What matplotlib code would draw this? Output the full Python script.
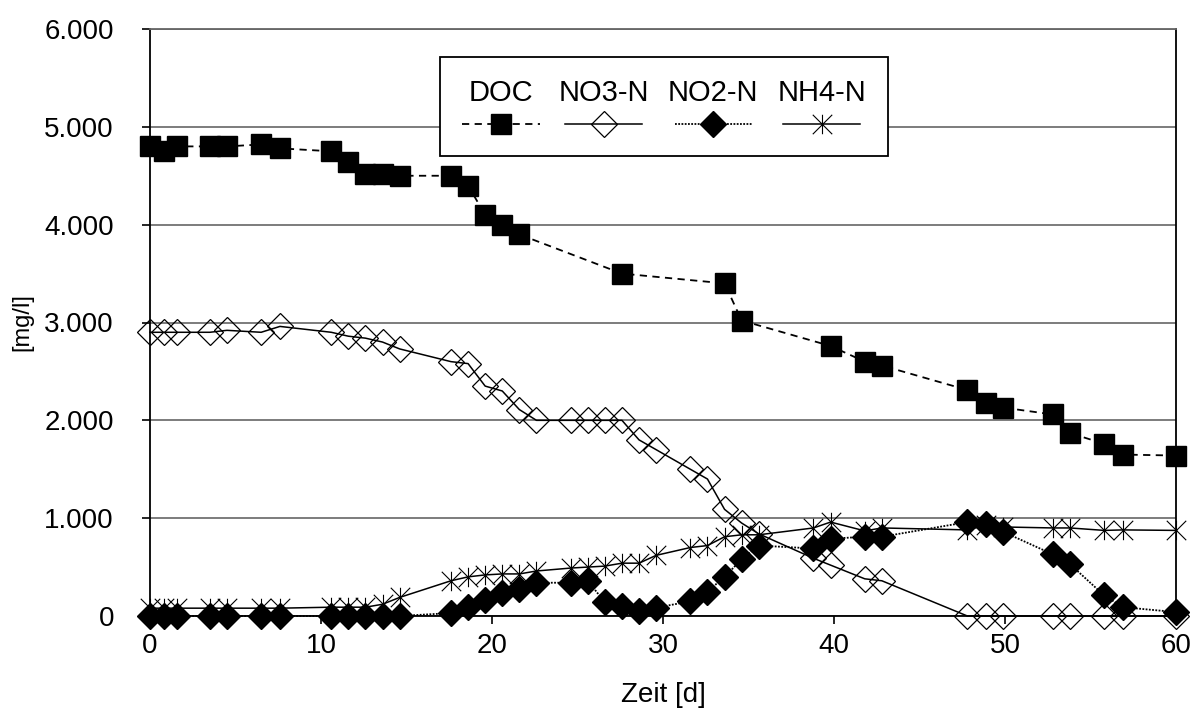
import matplotlib
matplotlib.use("Agg")
import matplotlib.pyplot as plt
from matplotlib.path import Path
from matplotlib.ticker import FuncFormatter, MultipleLocator
from matplotlib.offsetbox import VPacker

plt.rcParams['font.family'] = ['Liberation Sans', 'DejaVu Sans']

# ---- data ----
t_all = [0, 0.8, 1.6, 3.5, 4.5, 6.5, 7.6, 10.6, 11.6, 12.6, 13.6, 14.6, 17.6, 18.6,
         19.6, 20.6, 21.6, 22.6, 24.6, 25.6, 26.6, 27.6, 28.6, 29.6, 31.6, 32.6, 33.6,
         34.6, 35.6, 38.8, 39.8, 41.8, 42.8, 47.8, 48.9, 49.9, 52.8, 53.8, 55.8, 56.9, 60]

t_doc = [0, 0.8, 1.6, 3.5, 4.5, 6.5, 7.6, 10.6, 11.6, 12.6, 13.6, 14.6, 17.6, 18.6,
         19.6, 20.6, 21.6, 27.6, 33.6, 34.6, 39.8, 41.8, 42.8, 47.8, 48.9, 49.9, 52.8,
         53.8, 55.8, 56.9, 60]
doc = [4.80, 4.75, 4.80, 4.80, 4.80, 4.82, 4.78, 4.75, 4.64, 4.52, 4.52, 4.50, 4.50, 4.40,
       4.10, 4.00, 3.90, 3.50, 3.40, 3.02, 2.76, 2.60, 2.56, 2.31, 2.18, 2.13, 2.06,
       1.87, 1.76, 1.65, 1.64]

no3 = [2.90, 2.90, 2.90, 2.90, 2.92, 2.90, 2.96, 2.90, 2.86, 2.84, 2.80, 2.73, 2.60, 2.58,
       2.35, 2.30, 2.11, 2.00, 2.00, 2.00, 2.00, 2.00, 1.80, 1.70, 1.50, 1.40, 1.09,
       0.95, 0.84, 0.59, 0.52, 0.38, 0.36, 0.00, 0.00, 0.00, 0.00, 0.00, 0.00, 0.00, 0.00]

no2 = [0.00, 0.00, 0.00, 0.00, 0.00, 0.00, 0.00, 0.00, 0.00, 0.00, 0.00, 0.00, 0.03, 0.09,
       0.16, 0.23, 0.28, 0.34, 0.34, 0.36, 0.14, 0.10, 0.05, 0.085, 0.15, 0.25, 0.40,
       0.58, 0.72, 0.69, 0.79, 0.81, 0.81, 0.96, 0.94, 0.86, 0.63, 0.53, 0.21, 0.09, 0.04]

nh4 = [0.08, 0.08, 0.08, 0.08, 0.08, 0.08, 0.08, 0.09, 0.09, 0.09, 0.12, 0.19, 0.36, 0.40,
       0.42, 0.43, 0.43, 0.46, 0.49, 0.50, 0.51, 0.54, 0.54, 0.62, 0.70, 0.72, 0.81,
       0.83, 0.83, 0.90, 0.96, 0.87, 0.90, 0.88, 0.93, 0.91, 0.90, 0.90, 0.875, 0.88, 0.875]

labels = ["DOC", "NO3-N", "NO2-N", "NH4-N"]
x_label = "Zeit [d]"
y_label = "[mg/l]"

# ---- figure ----
fig = plt.figure(figsize=(11.97, 7.09), dpi=100)
ax = fig.add_axes([150 / 1197, 1 - 616 / 709, 1026 / 1197, 587 / 709])

asterisk = Path([(0, -1), (0, 1), (-1, -1), (1, 1), (-1, 1), (1, -1)],
                [Path.MOVETO, Path.LINETO] * 3)

h_doc, = ax.plot(t_doc, doc, color='black', lw=1.3, ls=(0, (4, 3)), marker='s',
                 ms=15, mfc='black', mec='black', clip_on=False, zorder=3)
h_no3, = ax.plot(t_all, no3, color='black', lw=1.1, ls='-', marker='D',
                 ms=13.5, mfc='none', mec='black', mew=0.9, clip_on=False, zorder=3)
h_no2, = ax.plot(t_all, no2, color='black', lw=1.3, ls=(0, (1, 0.8)), marker='D',
                 ms=13.5, mfc='black', mec='black', clip_on=False, zorder=3)
h_nh4, = ax.plot(t_all, nh4, color='black', lw=1.1, ls='-', marker=asterisk,
                 ms=14, mfc='none', mec='black', mew=0.8, clip_on=False, zorder=3)

ax.set_xlim(0, 60)
ax.set_ylim(0, 6)
ax.xaxis.set_major_locator(MultipleLocator(10))
ax.yaxis.set_major_locator(MultipleLocator(1))
ax.yaxis.set_major_formatter(FuncFormatter(lambda v, p: f"{v * 1000:,.0f}".replace(",", ".")))

ax.grid(axis='y', color='#666666', lw=1.2)
ax.set_axisbelow(True)
for s in ax.spines.values():
    s.set_color('black')
    s.set_linewidth(1.3)
ax.spines['top'].set_color('#666666')

ax.tick_params(axis='both', labelsize=20, color='black', width=1.2, length=6, direction='out')
ax.tick_params(axis='y', pad=20)
ax.tick_params(axis='x', pad=6)

ax.set_xlabel(x_label, fontsize=20, labelpad=17)
ax.set_ylabel(y_label, fontsize=17, labelpad=8)

leg = ax.legend([h_doc, h_no3, h_no2, h_nh4], labels, ncol=4, loc='upper left',
                bbox_to_anchor=(0.283, 0.952), borderaxespad=0, frameon=True,
                fancybox=False, edgecolor='black', framealpha=1, fontsize=21,
                handlelength=2.65, columnspacing=0.65, borderpad=0.75)
leg.get_frame().set_linewidth(1.3)

for col in leg._legend_handle_box.get_children():
    new_items = []
    for it in col.get_children():
        h, t = it.get_children()
        new_items.append(VPacker(pad=0, sep=5, children=[t, h], align='center'))
    col._children[:] = new_items

fig.savefig("out.png", dpi=100)
